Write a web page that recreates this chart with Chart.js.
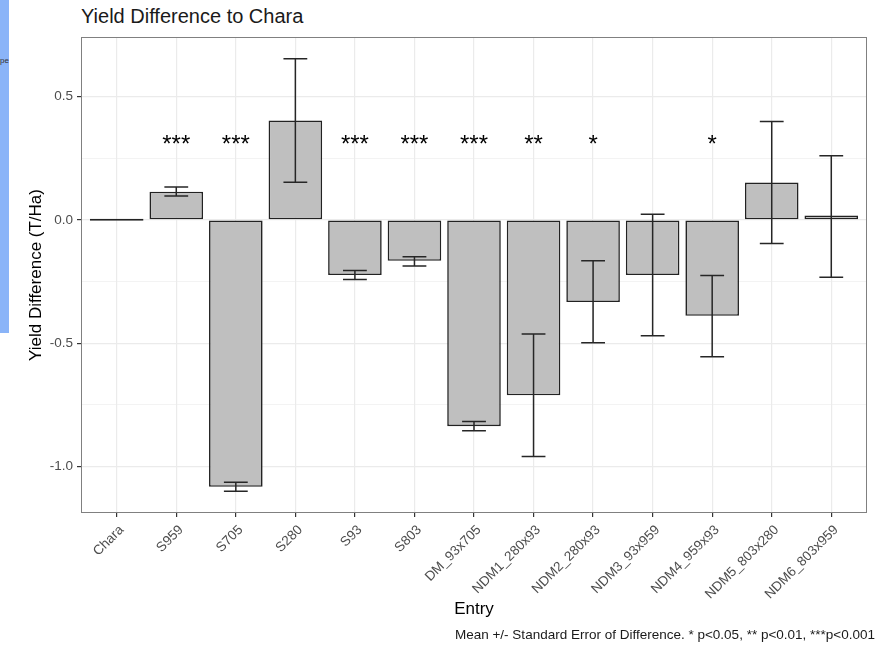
<!DOCTYPE html>
<html>
<head>
<meta charset="utf-8">
<script src="https://cdn.jsdelivr.net/npm/chart.js@4.4.1/dist/chart.umd.min.js"></script>
<style>
  body { margin:0; background:#fff; font-family:"Liberation Sans", Arial, sans-serif; }
  #wrap { position:relative; width:879px; height:645px; overflow:hidden; }
  #yd-chart { position:absolute; left:0; top:0; }
  .side { position:absolute; left:0; top:0; width:9px; height:333px; background:#8ab4f8; overflow:hidden; }
  .side span { position:absolute; right:0; top:56px; font-size:8px; color:#333; }
  .ttl { position:absolute; left:81px; top:6px; font-size:20px; line-height:1; color:#1a1a1a; white-space:nowrap; }
  .cap { position:absolute; right:4px; top:628px; font-size:13.5px; line-height:1; color:#1a1a1a; white-space:nowrap; }
</style>
</head>
<body>
<div id="wrap">
  <div class="side"><span>pe</span></div>
  <div class="ttl">Yield Difference to Chara</div>
  <canvas id="yd-chart" width="879" height="645"></canvas>
  <div class="cap">Mean +/- Standard Error of Difference. * p&lt;0.05, ** p&lt;0.01, ***p&lt;0.001</div>
</div>
<script>
// ── 데이터 ────────────────────────────────────────────
const ENTRIES = ['Chara','S959','S705','S280','S93','S803','DM_93x705',
  'NDM1_280x93','NDM2_280x93','NDM3_93x959','NDM4_959x93','NDM5_803x280','NDM6_803x959'];
const MEANS   = [0, 0.114, -1.082, 0.403, -0.224, -0.166, -0.836, -0.711, -0.333, -0.224, -0.389, 0.151, 0.018];
const ERR_LO  = [null, 0.097, -1.100, 0.152, -0.242, -0.187, -0.855, -0.959, -0.498, -0.470, -0.555, -0.096, -0.233];
const ERR_HI  = [null, 0.133, -1.063, 0.653, -0.205, -0.150, -0.817, -0.463, -0.166, 0.023, -0.226, 0.399, 0.260];
const STARS   = ['', '***', '***', '', '***', '***', '***', '**', '*', '', '*', '', ''];
const STAR_Y  = 0.317;
const Y_TICK_STEP = 0.25;

const FONT = '"Liberation Sans", Arial, sans-serif';
Chart.defaults.font.family = FONT;
Chart.defaults.color = '#4d4d4d';

const isMajor = v => Math.abs(v / 0.5 - Math.round(v / 0.5)) < 1e-6;

// ── 에러바 / 별표 / 패널 테두리 ─────────────────────────
const overlay = {
  id: 'overlay',
  afterDatasetsDraw(chart) {
    const { ctx, scales: { x, y }, chartArea: a } = chart;
    ctx.save();
    ctx.strokeStyle = '#262626';
    ctx.lineWidth = 1.5;
    ENTRIES.forEach((_, i) => {
      if (ERR_LO[i] == null) return;
      const px = x.getPixelForValue(i);
      const hw = x.getPixelForValue(i + 0.2) - px;
      const y1 = y.getPixelForValue(ERR_LO[i]);
      const y2 = y.getPixelForValue(ERR_HI[i]);
      ctx.beginPath();
      ctx.moveTo(px, y1); ctx.lineTo(px, y2);
      ctx.moveTo(px - hw, y1); ctx.lineTo(px + hw, y1);
      ctx.moveTo(px - hw, y2); ctx.lineTo(px + hw, y2);
      ctx.stroke();
    });
    ctx.fillStyle = '#000';
    ctx.font = '24px ' + FONT;
    ctx.textAlign = 'center';
    ctx.textBaseline = 'middle';
    ENTRIES.forEach((_, i) => {
      if (!STARS[i]) return;
      ctx.fillText(STARS[i], x.getPixelForValue(i), y.getPixelForValue(STAR_Y) + 4);
    });
    ctx.strokeStyle = '#808080';
    ctx.lineWidth = 1;
    ctx.strokeRect(a.left + 0.5, a.top + 0.5, a.right - a.left - 1, a.bottom - a.top - 1);
    ctx.restore();
  },
};

new Chart(document.getElementById('yd-chart'), {
  type: 'bar',
  data: {
    datasets: [{
      data: MEANS.map((v, i) => ({ x: i, y: v })),
      backgroundColor: '#bfbfbf',
      borderColor: '#222',
      borderWidth: 1.6,
      borderSkipped: false,
      minBarLength: 2,
      categoryPercentage: 1,
      barPercentage: 0.9,
    }],
  },
  options: {
    responsive: false,
    animation: false,
    layout: { padding: { left: 22, right: 12, top: 37, bottom: 21 } },
    plugins: { legend: { display: false }, tooltip: { enabled: false } },
    scales: {
      x: {
        type: 'linear',
        min: -0.6, max: 12.6,
        offset: false,
        afterFit: s => { s.height = 111; },
        border: { display: false },
        grid: { offset: false, color: '#ebebeb', lineWidth: 1.2, tickLength: 4, tickColor: '#333' },
        ticks: {
          stepSize: 1, includeBounds: false, autoSkip: false,
          minRotation: 45, maxRotation: 45, padding: 5, labelOffset: 5,
          font: { size: 13.5 }, color: '#4d4d4d',
          callback: v => ENTRIES[v] ?? '',
        },
        title: { display: true, text: 'Entry', color: '#000', font: { size: 17 }, padding: 4 },
      },
      y: {
        min: -1.188, max: 0.741,
        afterFit: s => { s.width = 59; },
        border: { display: false },
        grid: {
          color: '#ebebeb',
          lineWidth: c => isMajor(c.tick.value) ? 1.2 : 0.6,
          tickLength: 4,
          tickColor: c => isMajor(c.tick.value) ? '#333' : 'rgba(0,0,0,0)',
        },
        ticks: {
          stepSize: Y_TICK_STEP, includeBounds: false, padding: 4,
          font: { size: 13.5 }, color: '#4d4d4d',
          callback: v => isMajor(v) ? v.toFixed(1) : '',
        },
        title: { display: true, text: 'Yield Difference (T/Ha)', color: '#000', font: { size: 17 }, padding: 4 },
      },
    },
  },
  plugins: [overlay],
});
</script>
</body>
</html>
